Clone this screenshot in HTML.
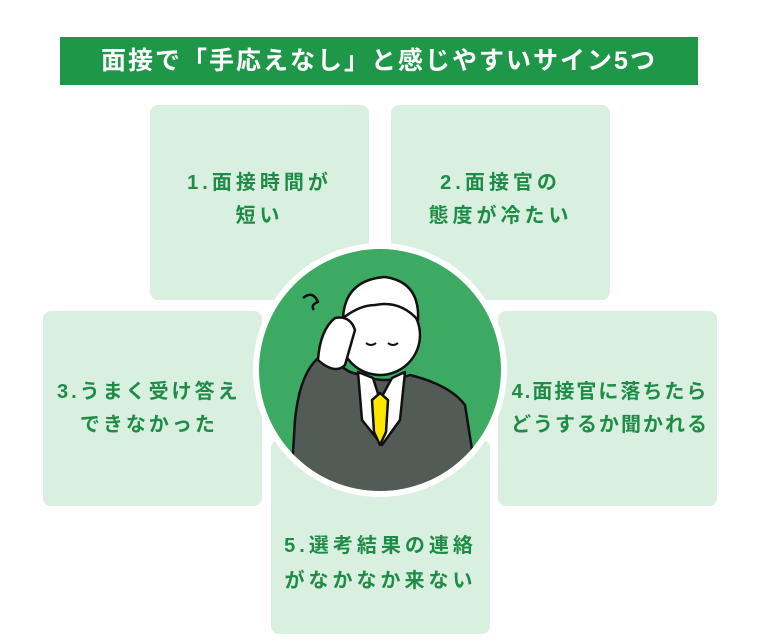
<!DOCTYPE html>
<html><head><meta charset="utf-8"><style>
body{margin:0;width:760px;height:643px;background:#fff;position:relative;overflow:hidden;font-family:"Liberation Sans","Noto Sans CJK JP",sans-serif}
.t{position:absolute;left:60px;top:37px;width:638px;height:48px;background:#1f9748;color:#fff;font-size:25px;font-weight:bold;text-align:center;line-height:48px;letter-spacing:2px}
.b{position:absolute;background:#d9efe0;border-radius:8px;color:#1e8c46;font-weight:bold;font-size:20px;line-height:33px;letter-spacing:4px;display:flex;align-items:center;justify-content:center;text-align:center}
</style></head><body>
<div class="t">面接で「手応えなし」と感じやすいサイン5つ</div>
<div class="b" style="left:150px;top:105px;width:219px;height:195px;align-items:flex-start"><div style="margin-top:62px">1.面接時間が<br>短い</div></div>
<div class="b" style="left:391px;top:105px;width:219px;height:195px;align-items:flex-start"><div style="margin-top:62px">2.面接官の<br>態度が冷たい</div></div>
<div class="b" style="left:43px;top:311px;width:219px;height:195px;justify-content:flex-start;letter-spacing:3px"><div style="margin-left:14px">3.うまく受け答え<br>できなかった</div></div>
<div class="b" style="left:498px;top:311px;width:219px;height:195px;justify-content:flex-end;letter-spacing:2px"><div style="margin-right:8px">4.面接官に落ちたら<br>どうするか聞かれる</div></div>
<div class="b" style="left:271px;top:440px;width:219px;height:194px;align-items:flex-end"><div style="margin-bottom:35px;line-height:35px">5.選考結果の連絡<br>がなかなか来ない</div></div>
<svg style="position:absolute;left:0;top:0" width="760" height="643">
<defs><clipPath id="c"><circle cx="380" cy="370" r="121"/></clipPath></defs>
<circle cx="380" cy="370" r="127" fill="#fff"/>
<circle cx="380" cy="370" r="121" fill="#3daa64"/>
<g clip-path="url(#c)" stroke="#111" stroke-width="2.5" stroke-linejoin="round">
<path d="M295,420 Q300,370 322,355 L350,372 L360,375 Q385,385 410,375 Q450,385 465,405 L480,500 L290,500 Z" fill="#535b57"/>
<path d="M373,378 L380,400 L392,378 L405,372 L400,420 L382,445 L362,420 L358,372 Z" fill="#fff"/>
<path d="M380,393 L388,400 L386,432 L380,445 L374,432 L372,400 Z" fill="#ffe600"/>
<circle cx="380" cy="335" r="40" fill="#fff"/>
<path d="M343,318 Q345,280 385,277 Q420,282 418,320 Q400,300 375,305 Q360,305 343,318 Z" fill="#fff"/>
<path d="M318,360 Q320,330 335,318 Q350,315 355,330 L345,365 Q335,375 318,360 Z" fill="#fff"/>
<path d="M303,298 q10,-8 15,4 q-8,3 -4,8" fill="none"/>
</g>
<path d="M366,343 q5,4 10,0 M388,343 q5,4 10,0" stroke="#111" stroke-width="2" fill="none"/>
</svg>
</body></html>
